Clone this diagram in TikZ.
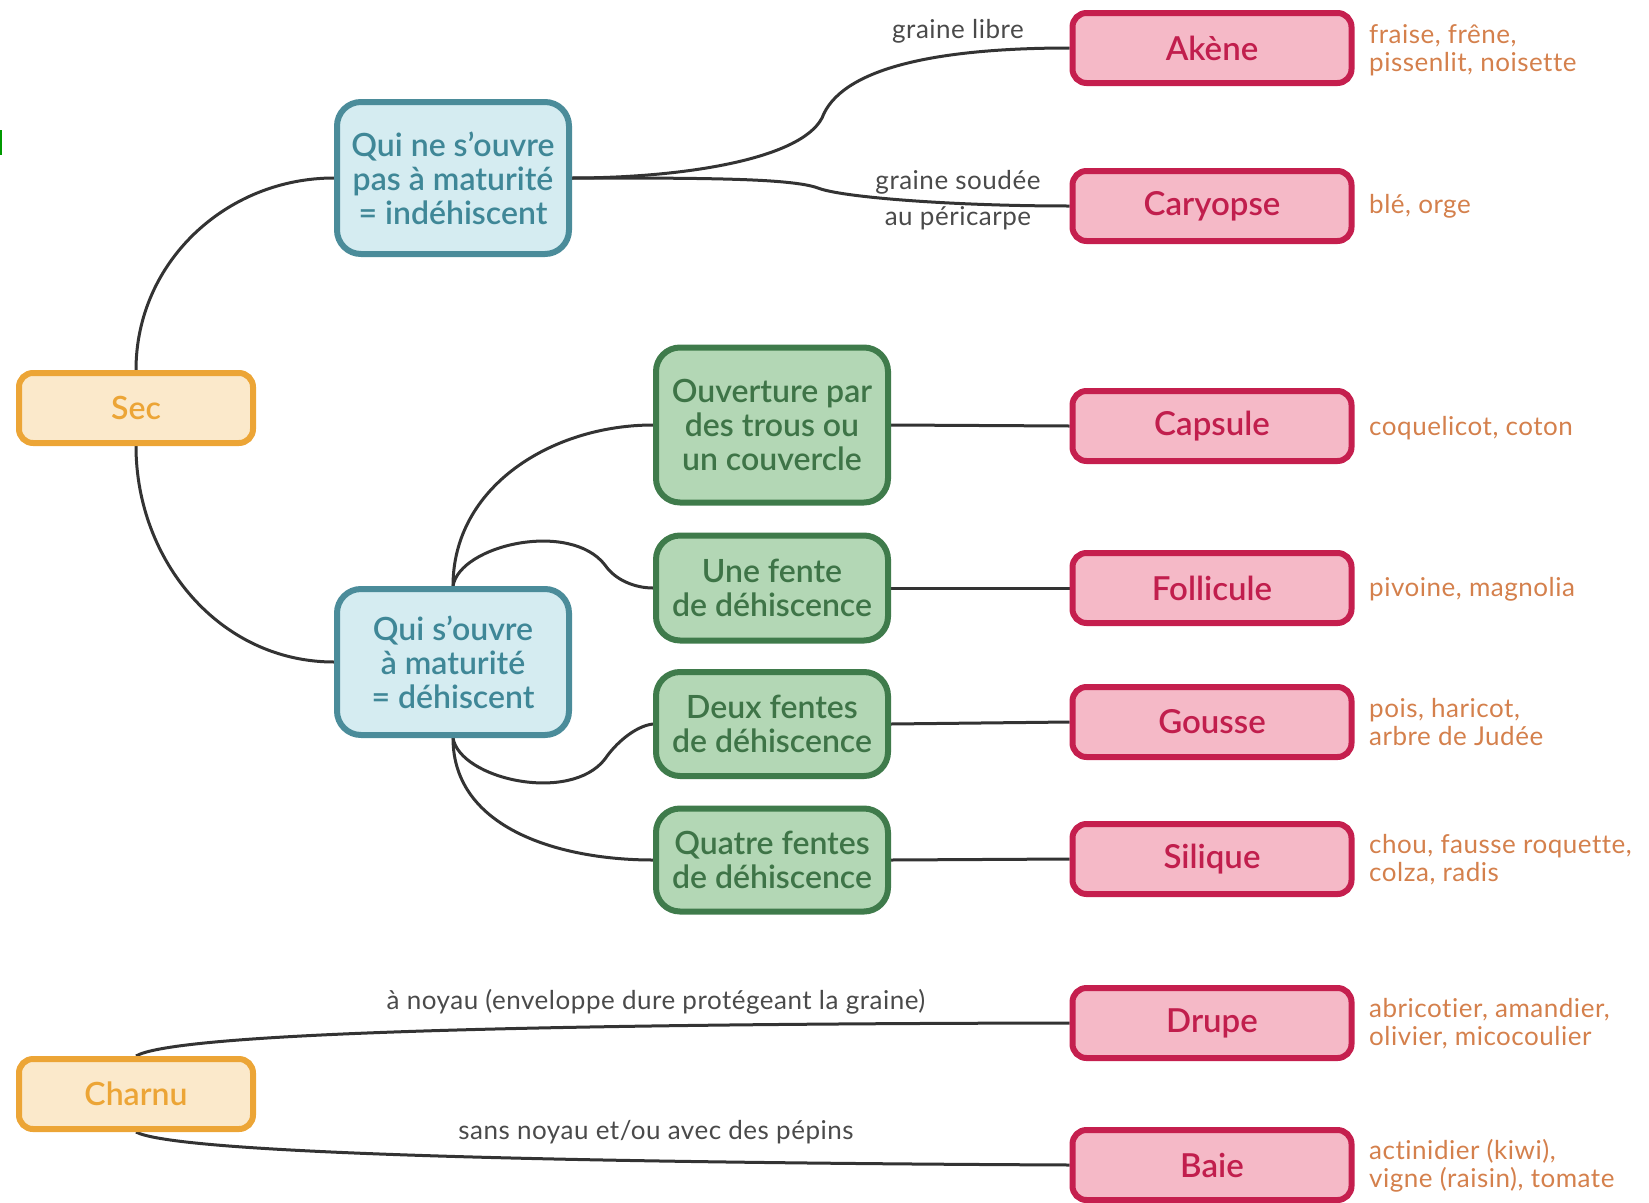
\documentclass[tikz,border=0pt]{standalone}
\usepackage{fontspec}
\setmainfont{Lato}
\newfontfamily\boxfont{Lato}[UprightFont=* Semibold]
\newfontfamily\smallfont{Lato}[LetterSpace=2, Ligatures=NoCommon]
\usetikzlibrary{backgrounds}

\definecolor{secfill}{HTML}{FBE9CB}
\definecolor{secdraw}{HTML}{ECA536}
\definecolor{bluefill}{HTML}{D5ECF1}
\definecolor{bluedraw}{HTML}{4B8C9A}
\definecolor{bluetext}{HTML}{3F8797}
\definecolor{greenfill}{HTML}{B3D7B5}
\definecolor{greendraw}{HTML}{3F7B4B}
\definecolor{greentext}{HTML}{3E7447}
\definecolor{pinkfill}{HTML}{F5B9C7}
\definecolor{pinkdraw}{HTML}{C51F4E}
\definecolor{pinktext}{HTML}{C11E4D}
\definecolor{extext}{HTML}{D4804C}
\definecolor{lbltext}{HTML}{4A4A4A}
\definecolor{linkcol}{HTML}{333333}

\begin{document}
\begin{tikzpicture}[x=1pt, y=-1pt,
  box/.style={line width=6pt, align=center, inner sep=0pt,
    font=\boxfont\fontsize{32}{34}\selectfont},
  rootbox/.style={box, rounded corners=14pt, fill=secfill, draw=secdraw,
    text=secdraw, minimum width=234pt, minimum height=70pt},
  splitbox/.style={box, rounded corners=24pt, fill=bluefill, draw=bluedraw,
    text=bluetext, minimum width=232pt},
  modebox/.style={box, rounded corners=24pt, fill=greenfill, draw=greendraw,
    text=greentext, minimum width=232pt},
  fruitbox/.style={box, rounded corners=14pt, fill=pinkfill, draw=pinkdraw,
    text=pinktext, minimum width=279pt, minimum height=70pt,
    font=\boxfont\fontsize{33}{34}\selectfont},
  ex/.style={anchor=west, align=left, inner sep=0pt, text=extext,
    font=\smallfont\fontsize{26}{28}\selectfont},
  lbl/.style={align=center, inner sep=0pt, text=lbltext,
    font=\smallfont\fontsize{26}{36}\selectfont},
  link/.style={draw=linkcol, line width=3pt}]
\useasboundingbox (0,0) rectangle (1649,1202);

% first level
\node[rootbox] (sec) at (136,408) {Sec};
\node[rootbox] (charnu) at (136,1094) {Charnu};

% opens or not
\node[splitbox, minimum height=152pt] (indeh) at (453,178) {Qui ne s’ouvre\\pas à maturité\\= indéhiscent};
\node[splitbox, minimum height=146pt] (deh) at (453,662) {Qui s’ouvre\\à maturité\\= déhiscent};

% how it opens
\node[modebox, minimum height=155pt] (trous) at (772,425) {Ouverture par\\des trous ou\\un couvercle};
\node[modebox, minimum height=105pt] (fente) at (772,588) {Une fente\\de déhiscence};
\node[modebox, minimum height=104pt] (deuxf) at (772,724) {Deux fentes\\de déhiscence};
\node[modebox, minimum height=103pt] (quatref) at (772,860) {Quatre fentes\\de déhiscence};

% fruit types
\node[fruitbox] (akene) at (1212,48) {Akène};
\node[fruitbox] (caryo) at (1212,206) {Caryopse};
\node[fruitbox] (capsule) at (1212,426) {Capsule};
\node[fruitbox] (follic) at (1212,588) {Follicule};
\node[fruitbox] (gousse) at (1212,722) {Gousse};
\node[fruitbox] (silique) at (1212,859) {Silique};
\node[fruitbox] (drupe) at (1212,1023) {Drupe};
\node[fruitbox] (baie) at (1212,1165) {Baie};

% examples
\node[ex] (exakene) at (1369,50) {fraise, frêne,\\pissenlit, noisette};
\node[ex] (excaryo) at (1369,206) {blé, orge};
\node[ex] (excapsule) at (1369,428) {coquelicot, coton};
\node[ex] (exfollic) at (1369,589) {pivoine, magnolia};
\node[ex] (exgousse) at (1369,722) {pois, haricot,\\arbre de Judée};
\node[ex] (exsilique) at (1369,860) {chou, fausse roquette,\\colza, radis};
\node[ex] (exdrupe) at (1369,1024) {abricotier, amandier,\\olivier, micocoulier};
\node[ex] (exbaie) at (1369,1166) {actinidier (kiwi),\\vigne (raisin), tomate};

% edge labels
\node[lbl] (libre) at (958,31) {graine libre};
\node[lbl] (soudee) at (958,200) {graine soudée\\au péricarpe};
\node[lbl] (noyau) at (656,1002) {à noyau (enveloppe dure protégeant la graine)};
\node[lbl] (pepins) at (656,1132) {sans noyau et/ou avec des pépins};

\begin{scope}[on background layer]
\draw[link] (sec.north) to[out=90, in=180] (indeh.west);
\draw[link] (sec.south) to[out=-90, in=180] (deh.west);

\draw[link] (indeh.east) .. controls (680,178) and (800,160) .. (822,118)
  .. controls (840,70) and (930,48) .. (akene.west);
\draw[link] (indeh.east) .. controls (700,178) and (790,178) .. (818,188)
  .. controls (840,197) and (950,206) .. (caryo.west);

\draw[link] (deh.north) to[out=90, in=180] (trous.west);
\draw[link] (deh.north) .. controls (460,545) and (570,520) .. (605,565)
  .. controls (615,580) and (635,588) .. (fente.west);
\draw[link] (deh.south) .. controls (460,779) and (570,804) .. (605,759)
  .. controls (615,744) and (635,726) .. (deuxf.west);
\draw[link] (deh.south) to[out=-90, in=180] (quatref.west);

\draw[link] (trous.east) -- (capsule.west);
\draw[link] (fente.east) -- (follic.west);
\draw[link] (deuxf.east) -- (gousse.west);
\draw[link] (quatref.east) -- (silique.west);

\draw[link] (charnu.north) .. controls (170,1036) and (450,1024) .. (drupe.west);
\draw[link] (charnu.south) .. controls (170,1150) and (450,1162) .. (baie.west);
\end{scope}

\draw[green!60!black, line width=2pt] (0.5,130) -- (0.5,155);
\end{tikzpicture}
\end{document}
